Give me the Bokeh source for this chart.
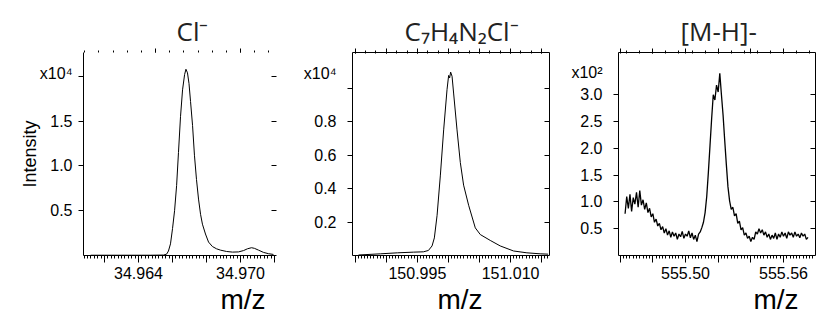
import numpy as np
from bokeh.plotting import figure
from bokeh.models import Range1d, LinearAxis, FixedTicker, Title, CustomJSTickFormatter
from bokeh.layouts import row
from bokeh.embed import file_html
from bokeh.resources import INLINE

# ---------------- data ----------------
# Cl- extracted spectrum (m/z, counts)
cl_mz = [34.96118, 34.96294, 34.96471, 34.96547, 34.96565, 34.96576, 34.96588, 34.96600,
         34.96612, 34.96624, 34.96635, 34.96647, 34.96659, 34.96671, 34.96679, 34.96688,
         34.96697, 34.96706, 34.96718, 34.96729, 34.96741, 34.96753, 34.96765, 34.96776,
         34.96794, 34.96812, 34.96835, 34.96859, 34.96882, 34.96918, 34.96953, 34.96988,
         34.97018, 34.97041, 34.97065, 34.97082, 34.97106, 34.97135, 34.97165, 34.97194]
cl_counts = [30, 30, 30, 50, 150, 500, 1300, 3000,
             5000, 7800, 11500, 15500, 18500, 20200, 20800, 20400,
             19200, 17200, 14500, 11200, 8500, 6300, 4600, 3500,
             2400, 1500, 1000, 750, 600, 450, 380, 400,
             550, 750, 870, 800, 600, 350, 200, 120]

# C7H4N2Cl- spectrum
frag_mz = [150.98552, 150.98905, 150.99179, 150.99436, 150.99596, 150.99677, 150.99736,
           150.99773, 150.99817, 150.99870, 150.99923, 150.99977, 151.00003, 151.00019,
           151.00035, 151.00058, 151.00083, 151.00138, 151.00191, 151.00244, 151.00325,
           151.00432, 151.00513, 151.00673, 151.00834, 151.01048, 151.01263, 151.01477,
           151.01605]
frag_counts = [30, 100, 160, 200, 220, 300, 570,
               1050, 2400, 4800, 7500, 9900, 10750, 10600,
               10950, 10700, 9700, 7500, 5550, 4200, 3000,
               1650, 1250, 900, 570, 270, 160, 100,
               80]

# [M-H]- spectrum, sampled every 0.001 from m/z 555.463
mh_counts = [78, 110, 88, 114, 82, 108, 96, 118, 90, 121, 94, 104, 86, 98, 80, 88, 72, 78,
             62, 68, 55, 60, 48, 54, 42, 50, 38, 46, 34, 44, 36, 42, 30, 40, 35, 45, 32, 40,
             36, 46, 33, 42, 30, 38, 26, 40, 44, 52, 62, 80, 110, 155, 205, 255, 300, 290,
             318, 305, 340, 300, 262, 215, 170, 128, 102, 86, 90, 74, 78, 60, 64, 48, 52,
             38, 42, 32, 36, 26, 34, 30, 44, 40, 50, 42, 48, 38, 44, 34, 40, 30, 38, 32, 42,
             30, 40, 34, 44, 36, 42, 32, 44, 38, 42, 34, 44, 36, 40, 33, 42, 36, 40, 30, 34]
mh_mz = np.round(555.463 + 0.001 * np.arange(len(mh_counts)), 3)

# axis ticks
cl_xticks = [34.962, 34.964, 34.966, 34.968, 34.970, 34.972]
cl_xlabels = {34.964: "34.964", 34.970: "34.970"}
cl_top = [34.965, 34.970]
frag_xticks = [150.985, 150.990, 150.995, 151.000, 151.005, 151.010, 151.015]
frag_xlabels = {150.995: "150.995", 151.010: "151.010"}
mh_xticks = [555.46, 555.48, 555.50, 555.52, 555.54, 555.56]
mh_xlabels = {555.50: "555.50", 555.56: "555.56"}

cl_yticks = [0.5, 1.0, 1.5, 2.0]
cl_ylabels = ["0.5", "1.0", "1.5", ""]
frag_yticks = [0.2, 0.4, 0.6, 0.8, 1.0]
frag_ylabels = ["0.2", "0.4", "0.6", "0.8", ""]
mh_yticks = [0.5, 1.0, 1.5, 2.0, 2.5, 3.0]
mh_ylabels = ["0.5", "1.0", "1.5", "2.0", "2.5", "3.0"]

titles = ["Cl\u207b", "C\u2087H\u2084N\u2082Cl\u207b", "[M-H]-"]
exponents = ["x10\u2074", "x10\u2074", "x10\u00b2"]
xlabel = "m/z"

HEIGHT = 325
TICK_FONT = "Liberation Sans"
BLANK = CustomJSTickFormatter(code="return ''")


def make_panel(width, borders, xr, yr, xticks, xlabels, minor_step, top_ticks, top_step,
               yticks, ylabels, ystandoff, exp_text, exp_py, box,
               title, title_px, xlab_px):
    left, right, top, bottom = borders
    p = figure(width=width, height=HEIGHT, x_range=Range1d(*xr), y_range=Range1d(*yr),
               output_backend="svg", toolbar_location=None,
               x_axis_type=None, y_axis_type=None,
               min_border_left=left, min_border_right=right,
               min_border_top=top, min_border_bottom=bottom)
    p.outline_line_color = None
    p.background_fill_color = "white"
    p.border_fill_color = "white"

    # bottom m/z axis: long ticks, two of them labelled, fine minor ticks
    minor = list(np.round(np.arange(xr[0] - xr[0] % minor_step, xr[1], minor_step), 6))
    overrides = {t: xlabels.get(t, "") for t in xticks}
    bottom_ax = LinearAxis(ticker=FixedTicker(ticks=xticks, minor_ticks=minor),
                           major_label_overrides=overrides,
                           major_tick_out=7, major_tick_in=0,
                           minor_tick_out=3, minor_tick_in=0,
                           major_label_standoff=4,
                           major_label_text_font=TICK_FONT,
                           major_label_text_font_size="16px",
                           major_label_text_color="black")
    p.add_layout(bottom_ax, "below")

    # left: tick marks on the frame, labels (plus the exponent) just outside them
    tick_ax = LinearAxis(ticker=FixedTicker(ticks=yticks, minor_ticks=[]),
                         formatter=BLANK, major_label_standoff=0,
                         major_tick_out=5, major_tick_in=0,
                         minor_tick_line_color=None)
    p.add_layout(tick_ax, "left")
    fh = HEIGHT - top - bottom
    y_exp = yr[1] - (exp_py - top) / fh * (yr[1] - yr[0])
    lab_over = {t: lab for t, lab in zip(yticks, ylabels)}
    lab_over[y_exp] = exp_text
    label_ax = LinearAxis(ticker=FixedTicker(ticks=list(yticks) + [y_exp], minor_ticks=[]),
                          major_label_overrides=lab_over,
                          major_tick_line_color=None, minor_tick_line_color=None,
                          major_tick_out=0, major_tick_in=0,
                          axis_line_color=None,
                          major_label_standoff=ystandoff,
                          major_label_text_font=TICK_FONT,
                          major_label_text_font_size="16px",
                          major_label_text_color="black")
    p.add_layout(label_ax, "left")

    top_minor = list(np.round(np.arange(xr[0] - xr[0] % top_step, xr[1], top_step), 6))
    top_ax = LinearAxis(ticker=FixedTicker(ticks=top_ticks, minor_ticks=top_minor),
                        formatter=BLANK, major_label_standoff=0,
                        major_tick_out=4, major_tick_in=1 if box else 0,
                        minor_tick_out=2, minor_tick_in=1 if box else 0,
                        axis_line_color="black" if box else None)
    p.add_layout(top_ax, "above")

    right_ax = LinearAxis(ticker=FixedTicker(ticks=yticks, minor_ticks=[]),
                          formatter=BLANK, major_label_standoff=0,
                          major_tick_out=0, major_tick_in=5,
                          minor_tick_line_color=None,
                          axis_line_color="black" if box else None)
    p.add_layout(right_ax, "right")

    p.title.text = title
    p.title.align = "left"
    p.title.offset = title_px - left
    p.title.text_font = "Open Sans"
    p.title.text_font_size = "26px"
    p.title.text_font_style = "normal"
    p.title.text_color = "#222222"
    p.title.standoff = 0

    p.add_layout(Title(text=xlabel, align="left", offset=xlab_px - left,
                       text_font=TICK_FONT, text_font_size="28px",
                       text_font_style="normal", text_color="black", standoff=0),
                 "below")
    return p, label_ax


# ---------------- panel 1: Cl- ----------------
p1, ax1 = make_panel(280, (83, 4, 51, 70), (34.96076, 34.97212), (0, 2.267),
                     cl_xticks, cl_xlabels, 0.0002, cl_top, 0.005 / 6,
                     cl_yticks, cl_ylabels, 6, exponents[0], 72, False,
                     titles[0], 176, 220)
p1.line(cl_mz, np.array(cl_counts) / 1e4, line_color="black", line_width=1)
ax1.axis_label = "Intensity"
ax1.axis_label_text_font = TICK_FONT
ax1.axis_label_text_font_size = "18px"
ax1.axis_label_text_font_style = "normal"
ax1.axis_label_text_color = "black"
ax1.axis_label_standoff = -3

# ---------------- panel 2: C7H4N2Cl- ----------------
p2, ax2 = make_panel(275, (72, 6, 52, 67), (150.98455, 151.01627), (0, 1.212),
                     frag_xticks, frag_xlabels, 0.0005, frag_xticks, 0.005 / 3,
                     frag_yticks, frag_ylabels, 11, exponents[1], 73, True,
                     titles[1], 124, 157)
p2.line(frag_mz, np.array(frag_counts) / 1e4, line_color="black", line_width=1)

# ---------------- panel 3: [M-H]- ----------------
p3, ax3 = make_panel(279, (63, 19, 52, 67), (555.45897, 555.57960), (0, 3.787),
                     mh_xticks, mh_xlabels, 0.002, mh_xticks, 0.008,
                     mh_yticks, mh_ylabels, 11, exponents[2], 72, True,
                     titles[2], 125, 198)
p3.line(mh_mz, np.array(mh_counts) / 1e2, line_color="black", line_width=1.3)

layout = row(p1, p2, p3, spacing=0)
open("out.html", "w").write(file_html(layout, INLINE))
